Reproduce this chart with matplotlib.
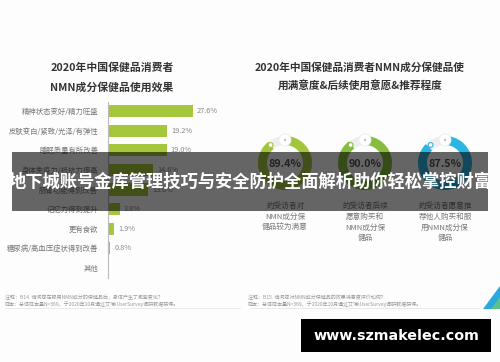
import matplotlib
matplotlib.use("Agg")
import matplotlib.pyplot as plt
from matplotlib.patches import Rectangle, Circle, Polygon

plt.rcParams["font.family"] = ["Noto Sans CJK SC", "DejaVu Sans"]

W, H = 500, 362

# left panel: effects of NMN products
effect_labels = [
    "精神状态变好/精力旺盛",
    "皮肤变白/紧致/光泽/有弹性",
    "睡眠质量有所改善",
    "身体免疫力/抵抗力提高",
    "肠胃功能得到改善",
    "记忆力得到提升",
    "更有食欲",
    "糖尿病/高血压症状得到改善",
    "其他",
]
effect_values = [27.6, 19.2, 19.0, 14.6, 13.0, 3.8, 1.9, 0.8, 0.0]

# right panel: satisfaction rings
ring_values = [89.4, 90.0, 87.5]
ring_colors = ["#a3c53c", "#86bd3e", "#2bb5e3"]
ring_texts = [
    "的受访者对\nNMN成分保\n健品较为满意",
    "的受访者后续\n愿意购买和\nNMN成分保\n健品",
    "的受访者愿意推\n荐他人购买和服\n用NMN成分保\n健品",
]
ring_x = [285, 365, 445]

BAR_COLOR = "#a5c73b"
TEXT_GRAY = "#777777"
BANNER_TEXT = "地下城账号金库管理技巧与安全防护全面解析助你轻松掌控财富"


def px_rect(x0, y0, x1, y1):
    # pixel box (top-left origin) -> figure fraction rect
    return [x0 / W, 1 - y1 / H, (x1 - x0) / W, (y1 - y0) / H]


def draw_bars(fig):
    ax = fig.add_axes(px_rect(108, 102, 238, 278))
    pos = list(range(len(effect_labels)))
    ax.barh(pos, effect_values, height=0.62, color=BAR_COLOR)
    ax.set_xlim(0, 130 / 3.08)
    ax.set_ylim(8.51, -0.46)
    for p, v in zip(pos, effect_values):
        if v > 0:
            ax.text(v + 1.3, p, f"{v:.1f}%", va="center", ha="left",
                    fontsize=5.3, color="#888888")
    ax.set_yticks(pos)
    ax.set_yticklabels(effect_labels, fontsize=5.3, color=TEXT_GRAY)
    ax.tick_params(axis="y", length=0, pad=7)
    ax.set_xticks([])
    for s in ["top", "right", "bottom"]:
        ax.spines[s].set_visible(False)
    ax.spines["left"].set_color("#bbbbbb")
    ax.spines["left"].set_linewidth(0.8)
    ax.patch.set_alpha(0)


def draw_rings(fig):
    r = 30
    for x, v, c in zip(ring_x, ring_values, ring_colors):
        ax = fig.add_axes(px_rect(x - r, 163 - r, x + r, 163 + r))
        ax.pie([v, 100 - v], startangle=90, counterclock=False,
               colors=[c, "#eeeeee"], radius=0.9,
               wedgeprops=dict(width=0.3, linewidth=0))
        ax.add_patch(Circle((0, 0.77), 0.2, facecolor="white",
                            edgecolor="#eeeeee", linewidth=0.6, zorder=5))
        ax.add_patch(Circle((0, 0.77), 0.03, facecolor="#999999", zorder=6))
        ax.add_patch(Circle((-0.48, 0.6), 0.08, facecolor="white",
                            edgecolor=c, linewidth=0.8, zorder=6))
        ax.text(0, -0.02, f"{v:.1f}%", ha="center", va="center",
                fontsize=7.8, fontweight="bold", color="#555555")
        ax.set_xlim(-1, 1)
        ax.set_ylim(-1, 1)
        ax.set_aspect("equal")
        ax.axis("off")


def main():
    fig = plt.figure(figsize=(W / 100, H / 100), dpi=100)
    fig.patch.set_facecolor("#fdfdfd")

    bg = fig.add_axes([0, 0, 1, 1])
    bg.set_xlim(0, W)
    bg.set_ylim(H, 0)
    bg.axis("off")

    bg.text(112, 68, "2020年中国保健品消费者", ha="center", va="center",
            fontsize=7.8, fontweight="bold", color="#333333")
    bg.text(112, 87, "NMN成分保健品使用效果", ha="center", va="center",
            fontsize=7.8, fontweight="bold", color="#333333")
    bg.text(360, 67, "2020年中国保健品消费者NMN成分保健品使", ha="center",
            va="center", fontsize=7.7, fontweight="bold", color="#333333")
    bg.text(360, 86, "用满意度&后续使用意愿&推荐程度", ha="center",
            va="center", fontsize=7.7, fontweight="bold", color="#333333")

    for x, t in zip(ring_x, ring_texts):
        bg.text(x, 202, t, ha="center", va="top", fontsize=5.5,
                color=TEXT_GRAY, linespacing=1.45)

    notes_left = ["注释：B14. 请问您在服用NMN成分的保健品后，身体产生了哪些变化？",
                  "样本：总体样本量N=369，于2020年10月通过艾瑞iUserSurvey调研数据获得。"]
    notes_right = ["注释：B15. 请问您对NMN成分保健品的效果满意度评价如何？",
                   "样本：总体样本量N=369，于2020年10月通过艾瑞iUserSurvey调研数据获得。"]
    for i, (a, b) in enumerate(zip(notes_left, notes_right)):
        bg.text(5, 297 + 7 * i, a, fontsize=3.6, color="#999999", va="center")
        bg.text(248, 297 + 7 * i, b, fontsize=3.6, color="#999999", va="center")
    bg.plot([5, 240], [308, 308], color="#e6e6e6", linewidth=0.6)
    bg.plot([250, 480], [308, 308], color="#e6e6e6", linewidth=0.6)

    bg.add_patch(Polygon([[500, 286], [500, 309], [483, 309]],
                         closed=True, facecolor="#2aa9df", edgecolor="none"))
    bg.add_patch(Polygon([[500, 297], [500, 309], [491, 309]],
                         closed=True, facecolor="#5cc18a", edgecolor="none"))

    draw_bars(fig)
    draw_rings(fig)

    top = fig.add_axes([0, 0, 1, 1])
    top.set_xlim(0, W)
    top.set_ylim(H, 0)
    top.axis("off")
    top.add_patch(Rectangle((12, 152), 476, 59, facecolor="black",
                            alpha=0.6, edgecolor="none"))
    top.text(250, 182, BANNER_TEXT, ha="center", va="center",
             fontsize=12.4, fontweight="bold", color="white")
    top.add_patch(Rectangle((301, 319), 190, 33, facecolor="black",
                            edgecolor="none"))
    top.text(396, 335.5, "www.szmakelec.com", ha="center", va="center",
             fontsize=10.3, fontweight="bold", color="white",
             family="DejaVu Sans")

    fig.savefig("out.png", dpi=100, facecolor=fig.get_facecolor())
    plt.close(fig)


if __name__ == "__main__":
    main()
